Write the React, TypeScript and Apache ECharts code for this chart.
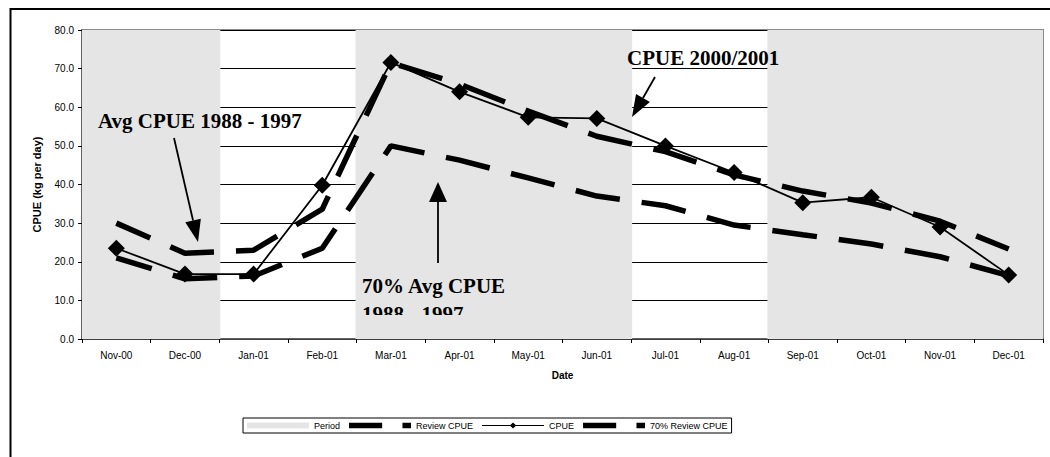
import React, { useEffect, useRef } from 'react';
import * as echarts from 'echarts';

const categories = ['Nov-00', 'Dec-00', 'Jan-01', 'Feb-01', 'Mar-01', 'Apr-01', 'May-01', 'Jun-01', 'Jul-01', 'Aug-01', 'Sep-01', 'Oct-01', 'Nov-01', 'Dec-01'];
const periodValues = [80, 80, null, null, 80, 80, 80, 80, null, null, 80, 80, 80, 80];
const reviewCpue = [30, 22.2, 23, 33.6, 71.5, 66, 59, 52.5, 48.5, 42.5, 38.3, 35.2, 30.5, 23.3];
const cpue = [23.5, 16.8, 16.8, 39.8, 71.6, 64, 57.4, 57.1, 50, 43.1, 35.3, 36.7, 29, 16.6];
const reviewCpue70 = [21, 15.6, 16.3, 23.5, 50, 46.3, 41.7, 37, 34.5, 29.5, 27, 24.6, 21.3, 16.4];
const yMin = 0;
const yMax = 80;
const yStep = 10;

const SANS = '"Liberation Sans", Arial, sans-serif';
const SERIF = '"Liberation Serif", "Times New Roman", serif';
const BAND = '#e5e5e5';
const TOP_Z = 100;

function arrow(x1: number, y1: number, x2: number, y2: number, headLen: number, halfW: number) {
  const dx = x2 - x1;
  const dy = y2 - y1;
  const len = Math.sqrt(dx * dx + dy * dy);
  const ux = dx / len;
  const uy = dy / len;
  const bx = x2 - ux * headLen;
  const by = y2 - uy * headLen;
  const px = -uy * halfW;
  const py = ux * halfW;
  return [
    { type: 'line', z: TOP_Z, shape: { x1, y1, x2: bx, y2: by }, style: { stroke: '#000', lineWidth: 1.8 }, silent: true },
    {
      type: 'polygon',
      z: TOP_Z,
      shape: { points: [[x2, y2], [bx + px, by + py], [bx - px, by - py]] },
      style: { fill: '#000' },
      silent: true,
    },
  ];
}

function annotationText(text: string, x: number, y: number) {
  return {
    type: 'text',
    x,
    y,
    z: TOP_Z,
    silent: true,
    style: {
      text,
      font: `bold 21px ${SERIF}`,
      fill: '#000',
      textAlign: 'left',
      textVerticalAlign: 'middle',
    },
  };
}

export default function App() {
  const ref = useRef<HTMLDivElement>(null);
  useEffect(() => {
    const chart = echarts.init(ref.current!, null, { renderer: 'svg' });
    const dashed = { color: '#000', width: 5.5, type: [45, 22], dashOffset: 8, cap: 'butt' };
    chart.setOption({
      animation: false,
      backgroundColor: '#fff',
      textStyle: { fontFamily: SANS },
      grid: { left: 82, right: 7, top: 30, bottom: 118, show: true, borderColor: '#8a8a8a', borderWidth: 2 },
      legend: {
        left: 243,
        top: 418,
        orient: 'horizontal',
        padding: [3, 4],
        itemGap: 9,
        itemWidth: 62,
        itemHeight: 6,
        borderColor: '#000',
        borderWidth: 1,
        backgroundColor: '#fff',
        textStyle: { fontSize: 9, color: '#000', fontFamily: SANS },
        data: [
          { name: 'Period', icon: 'rect' },
          { name: 'Review CPUE', icon: 'path://M0,0H31V5H0Z M50,0H58V5H50Z' },
          { name: 'CPUE', icon: 'path://M0,2.4H62V3.6H0Z M31,0L34.2,3L31,6L27.8,3Z' },
          { name: '70% Review CPUE', icon: 'path://M0,0H31V5H0Z M50,0H58V5H50Z' },
        ],
      },
      xAxis: {
        type: 'category',
        data: categories,
        boundaryGap: true,
        name: 'Date',
        nameLocation: 'middle',
        nameGap: 31,
        nameTextStyle: { fontSize: 10, fontWeight: 'bold', color: '#000', fontFamily: SANS },
        axisLine: { lineStyle: { color: '#555', width: 1.5 } },
        axisTick: { show: true, length: 4, lineStyle: { color: '#000' } },
        axisLabel: { interval: 0, fontSize: 10, color: '#000', margin: 11, fontFamily: SANS },
        splitLine: { show: false },
      },
      yAxis: {
        type: 'value',
        min: yMin,
        max: yMax,
        interval: yStep,
        name: 'CPUE (kg per day)',
        nameLocation: 'middle',
        nameGap: 40,
        nameTextStyle: { fontSize: 11, fontWeight: 'bold', color: '#000', fontFamily: SANS },
        axisLine: { show: true, lineStyle: { color: '#555', width: 1.5 } },
        axisTick: { show: true, length: 4, lineStyle: { color: '#000' } },
        axisLabel: { fontSize: 10, color: '#000', margin: 8, fontFamily: SANS, formatter: (v: number) => v.toFixed(1) },
        splitLine: { show: true, lineStyle: { color: '#000', width: 1 } },
      },
      series: [
        {
          name: 'Period',
          type: 'bar',
          data: periodValues,
          barWidth: '103%',
          barGap: '-100%',
          itemStyle: { color: BAND },
          silent: true,
          z: 1,
        },
        {
          name: 'Review CPUE',
          type: 'line',
          data: reviewCpue,
          symbol: 'none',
          lineStyle: dashed,
          itemStyle: { color: '#000' },
          z: 3,
        },
        {
          name: 'CPUE',
          type: 'line',
          data: cpue,
          symbol: 'diamond',
          symbolSize: 17,
          itemStyle: { color: '#000' },
          lineStyle: { color: '#000', width: 1.8 },
          z: 4,
        },
        {
          name: '70% Review CPUE',
          type: 'line',
          data: reviewCpue70,
          symbol: 'none',
          lineStyle: dashed,
          itemStyle: { color: '#000' },
          z: 3,
        },
      ],
      graphic: [
        {
          type: 'rect',
          z: TOP_Z,
          silent: true,
          shape: { x: 10.5, y: 9, width: 1100, height: 500 },
          style: { fill: 'none', stroke: '#000', lineWidth: 2 },
        },
        annotationText('Avg CPUE 1988 - 1997', 98, 121),
        ...arrow(174, 138, 198, 242, 22, 8),
        annotationText('CPUE 2000/2001', 627, 58),
        ...arrow(655, 77, 632, 117, 22, 8),
        annotationText('70% Avg CPUE', 362, 286),
        annotationText('1988 - 1997', 362, 314),
        {
          type: 'rect',
          z: TOP_Z,
          silent: true,
          shape: { x: 358, y: 315, width: 140, height: 23 },
          style: { fill: BAND },
        },
        ...arrow(438, 263, 438, 182, 20, 9),
      ],
    });
    return () => chart.dispose();
  }, []);
  return (
    <div
      ref={ref}
      style={{ position: 'absolute', left: 0, top: 0, width: 1050, height: 457, background: '#fff' }}
    />
  );
}
